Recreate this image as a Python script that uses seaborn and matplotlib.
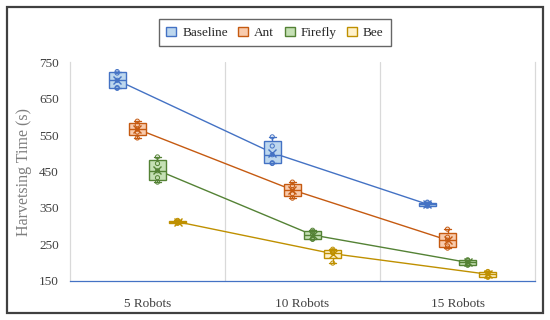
import numpy as np
import pandas as pd
import matplotlib
matplotlib.use("Agg")
import matplotlib.pyplot as plt
import seaborn as sns
from matplotlib.patches import Rectangle, Patch

groups = ["5 Robots", "10 Robots", "15 Robots"]
algorithms = ["Baseline", "Ant", "Firefly", "Bee"]

baseline_5 = [678, 680, 700, 720, 724]
baseline_10 = [472, 474, 496, 520, 545]
baseline_15 = [355, 357, 360, 364, 366]
ant_5 = [542, 558, 566, 578, 588]
ant_10 = [377, 389, 400, 411, 421]
ant_15 = [240, 246, 262, 270, 292]
firefly_5 = [421, 433, 452, 472, 490]
firefly_10 = [264, 266, 276, 285, 289]
firefly_15 = [193, 195, 202, 206, 208]
bee_5 = [308, 310, 312, 314, 316]
bee_10 = [199, 227, 228, 233, 237]
bee_15 = [160, 162, 170, 174, 176]

y_ticks = [150, 250, 350, 450, 550, 650, 750]

fills = ["#BDD7EE", "#F8CBAD", "#C5E0B4", "#FFF2CC"]
edges = ["#4472C4", "#C55A11", "#548235", "#BF9000"]

samples = {
    ("Baseline", "5 Robots"): baseline_5, ("Baseline", "10 Robots"): baseline_10, ("Baseline", "15 Robots"): baseline_15,
    ("Ant", "5 Robots"): ant_5, ("Ant", "10 Robots"): ant_10, ("Ant", "15 Robots"): ant_15,
    ("Firefly", "5 Robots"): firefly_5, ("Firefly", "10 Robots"): firefly_10, ("Firefly", "15 Robots"): firefly_15,
    ("Bee", "5 Robots"): bee_5, ("Bee", "10 Robots"): bee_10, ("Bee", "15 Robots"): bee_15,
}
rows = []
for (alg, grp), vals in samples.items():
    for v in vals:
        rows.append({"Algorithm": alg, "Group": grp, "Time": v})
df = pd.DataFrame(rows)

sns.set_style("white")
plt.rcParams["font.family"] = ["Liberation Serif", "DejaVu Serif"]

fig = plt.figure(figsize=(5.5, 3.2), dpi=100)
ax = fig.add_axes([0.127, 0.122, 0.846, 0.684])

width = 0.52
n = len(algorithms)
ax.set_xlim(-0.5, 2.5)
ax.set_ylim(150, 750)

for x in [0.5, 1.5]:
    ax.axvline(x, color="#D9D9D9", lw=0.9, zorder=0)

offsets = (np.arange(n) - (n - 1) / 2) * width / n
for i, alg in enumerate(algorithms):
    means = [np.mean(samples[(alg, g)]) for g in groups]
    xs = np.arange(len(groups)) + offsets[i]
    ax.plot(xs, means, color=edges[i], lw=1.0, zorder=1)

for i, alg in enumerate(algorithms):
    sub = df[df["Algorithm"] == alg].copy()
    sub["Pos"] = sub["Group"].map({g: k for k, g in enumerate(groups)}) + offsets[i]
    for k, g in enumerate(groups):
        vals = np.array(samples[(alg, g)])
        pos = k + offsets[i]
        ax.bxp([{
            "med": np.median(vals),
            "q1": np.percentile(vals, 25, method="weibull"),
            "q3": np.percentile(vals, 75, method="weibull"),
            "whislo": vals.min(), "whishi": vals.max(), "fliers": [], "mean": vals.mean()}],
            positions=[pos], widths=0.11, patch_artist=True, showmeans=True,
            boxprops=dict(facecolor=fills[i], edgecolor=edges[i], lw=1.0),
            medianprops=dict(color=edges[i], lw=1.0),
            whiskerprops=dict(color=edges[i], lw=1.0),
            capprops=dict(color=edges[i], lw=1.0), capwidths=0.045,
            meanprops=dict(marker="x", markeredgecolor=edges[i], markersize=6, markeredgewidth=1.0),
            manage_ticks=False, zorder=3)
    sns.scatterplot(data=sub, x="Pos", y="Time", ax=ax, s=9, facecolor="none",
                    edgecolor=edges[i], linewidth=0.7, zorder=4, legend=False)

ax.set_xticks(range(len(groups)))
ax.set_xticklabels(groups)
ax.set_yticks(y_ticks)
ax.set_xlabel("")
ax.set_ylabel("Harvetsing Time (s)", color="#7F7F7F", fontsize=11.5, labelpad=5)
ax.tick_params(axis="both", labelsize=9.5, colors="#404040", length=0, pad=8)
ax.tick_params(axis="x", pad=12)

ax.spines["top"].set_visible(False)
ax.spines["right"].set_color("#D9D9D9")
ax.spines["left"].set_color("#D9D9D9")
ax.spines["bottom"].set_color("#4472C4")
for s in ax.spines.values():
    s.set_linewidth(0.9)

handles = [Patch(facecolor=fills[i], edgecolor=edges[i], lw=1.0, label=a) for i, a in enumerate(algorithms)]
leg = fig.legend(handles=handles, loc="center", bbox_to_anchor=(0.5, 0.897), ncol=4,
                 frameon=True, fontsize=9.5, handlelength=0.75, handleheight=0.75,
                 columnspacing=0.8, handletextpad=0.45, borderpad=0.55, fancybox=False)
leg.get_frame().set_edgecolor("#404040")
leg.get_frame().set_linewidth(1.0)

fig.patches.append(Rectangle((7 / 550, 1 - 313 / 320), 536 / 550, 306 / 320, transform=fig.transFigure,
                             fill=False, edgecolor="#404040", lw=1.6, zorder=10))

fig.savefig("out.png", dpi=100)
